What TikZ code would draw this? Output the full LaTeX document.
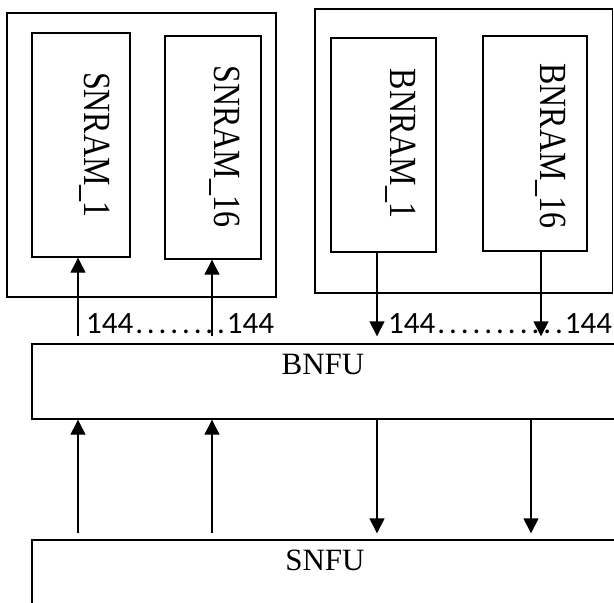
\documentclass[tikz,border=0pt]{standalone}
\usepackage{graphicx}
\usepackage{fontspec}
\setmainfont{Liberation Serif}
\newfontfamily\numfont{Carlito}
\usetikzlibrary{arrows.meta}
\newcommand{\dotrun}{\xleaders\hbox to 11.7pt{\hss.\hss}\hfill}
\newcommand{\ramname}[1]{\scalebox{1}[1.2]{#1}}
\tikzset{
  blk/.style={draw, line width=1.4pt, inner sep=0pt},
  ramtxt/.style={rotate=-90, anchor=base, inner sep=0pt, font=\fontsize{32}{32}\selectfont},
  futxt/.style={anchor=base, inner sep=0pt, font=\fontsize{31}{31}\selectfont},
  bus/.style={line width=1.4pt, -{Triangle[length=15pt,width=15pt]}},
  busnum/.style={anchor=base west, inner sep=0pt, font=\numfont\fontsize{31}{31}\selectfont}
}

\begin{document}
\begin{tikzpicture}[x=1pt,y=-1pt]
  \useasboundingbox (0,0) rectangle (614,603);
  \clip (0,0) rectangle (614,603);
  % banks
  \node[blk, minimum width=269pt, minimum height=284pt] (snbank) at (141.5,155) {};
  \node[blk, minimum width=297.5pt, minimum height=284pt] (bnbank) at (463.75,151) {};
  \node[blk, minimum width=98pt, minimum height=224pt] (snramA) at (81,145) {};
  \node[blk, minimum width=96pt, minimum height=223pt] (snramB) at (213,147.5) {};
  \node[blk, minimum width=105pt, minimum height=214pt] (bnramA) at (383.5,145) {};
  \node[blk, minimum width=104pt, minimum height=215pt] (bnramB) at (535,143.5) {};
  \node[ramtxt] (snramAtxt) at (84.5,145) {\ramname{SNRAM\_1}};
  \node[ramtxt] (snramBtxt) at (214,146.5) {\ramname{SNRAM\_16}};
  \node[ramtxt] (bnramAtxt) at (390,143.5) {\ramname{BNRAM\_1}};
  \node[ramtxt] (bnramBtxt) at (540,146) {\ramname{BNRAM\_16}};
  % function units
  \node[blk, minimum width=618pt, minimum height=75pt] (bnfu) at (341,381.5) {};
  \node[blk, minimum width=618pt, minimum height=100pt] (snfu) at (341,590) {};
  \node[futxt] (bnfutxt) at (323,374) {BNFU};
  \node[futxt] (snfutxt) at (325,570) {SNFU};
  % bus columns
  \coordinate (c1) at (78,0);
  \coordinate (c2) at (212,0);
  \coordinate (c3) at (377,0);
  \coordinate (c4) at (541,0);
  \coordinate (c5) at (531,0);
  \draw[bus, shorten <=7pt] (c1 |- bnfu.north) -- (c1 |- snramA.south);
  \draw[bus, shorten <=7pt] (c2 |- bnfu.north) -- (c2 |- snramB.south);
  \draw[bus, shorten >=7pt] (c3 |- bnramA.south) -- (c3 |- bnfu.north);
  \draw[bus, shorten >=7pt] (c4 |- bnramB.south) -- (c4 |- bnfu.north);
  \draw[bus, shorten <=6pt] (c1 |- snfu.north) -- (c1 |- bnfu.south);
  \draw[bus, shorten <=6pt] (c2 |- snfu.north) -- (c2 |- bnfu.south);
  \draw[bus, shorten >=6pt] (c3 |- bnfu.south) -- (c3 |- snfu.north);
  \draw[bus, shorten >=6pt] (c5 |- bnfu.south) -- (c5 |- snfu.north);
  \node[busnum] (snnum) at (86,333) {\makebox[188pt]{144\dotrun144}};
  \node[busnum] (bnnum) at (388,333) {\makebox[224pt]{144\dotrun144}};
\end{tikzpicture}
\end{document}
